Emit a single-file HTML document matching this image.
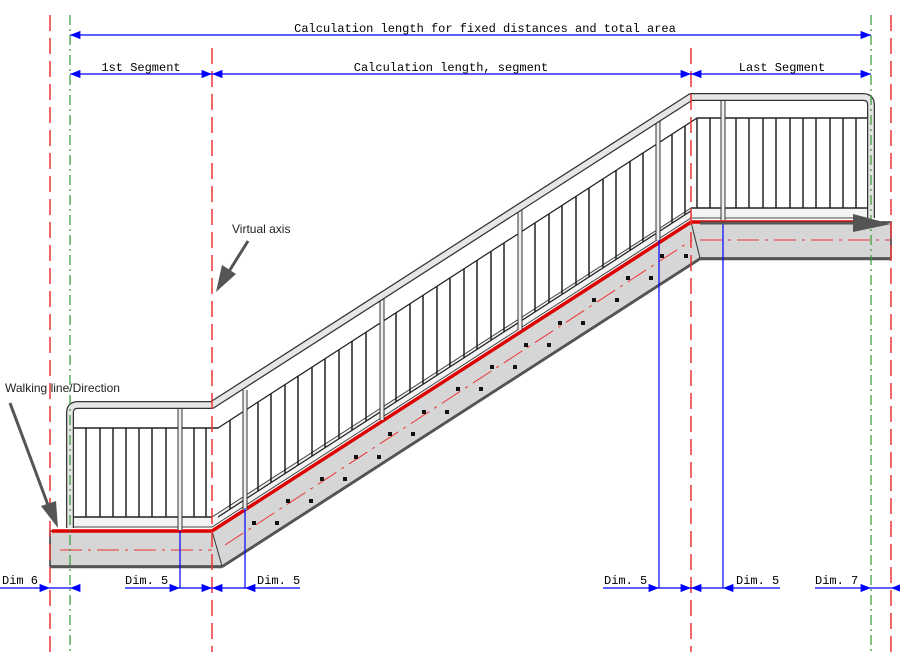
<!DOCTYPE html>
<html><head><meta charset="utf-8"><style>
html,body{margin:0;padding:0;background:#fff}
svg{display:block}
.dim{font-family:"Liberation Mono",monospace;font-size:12px;fill:#000}
.ann{font-family:"Liberation Sans",sans-serif;font-size:12px;fill:#222}
</style></head><body>
<svg width="900" height="652" viewBox="0 0 900 652" xmlns="http://www.w3.org/2000/svg">
<defs>
<marker id="ar" viewBox="0 0 10 10" refX="10" refY="5" markerWidth="8" markerHeight="8" orient="auto-start-reverse"><path d="M0,1 L10,5 L0,9z" fill="#00f"/></marker>
</defs>
<polygon points="50,531 212,531 691,222 891,222 891,258 700,258 222,566 50,566" fill="#d6d6d6" stroke="#333" stroke-width="1.5"/>
<line x1="212" y1="531" x2="222" y2="566" stroke="#333"/>
<line x1="691" y1="222" x2="700" y2="258" stroke="#333"/>
<line x1="222" y1="567" x2="700" y2="259" stroke="#555" stroke-width="2.5"/>
<line x1="50" y1="567" x2="222" y2="567" stroke="#555" stroke-width="2.5"/>
<line x1="700" y1="259" x2="891" y2="259" stroke="#555" stroke-width="2.5"/>
<g stroke="#e33" stroke-width="1" stroke-dasharray="22,6,3,6" fill="none">
<line x1="60" y1="550" x2="212" y2="550"/>
<line x1="225" y1="545" x2="692" y2="240"/>
<line x1="700" y1="240" x2="891" y2="240"/>
</g>
<g fill="#111">
<rect x="252" y="521" width="4" height="4"/><rect x="275" y="521" width="4" height="4"/>
<rect x="286" y="499" width="4" height="4"/><rect x="309" y="499" width="4" height="4"/>
<rect x="320" y="477" width="4" height="4"/><rect x="343" y="477" width="4" height="4"/>
<rect x="354" y="455" width="4" height="4"/><rect x="377" y="455" width="4" height="4"/>
<rect x="388" y="432" width="4" height="4"/><rect x="411" y="432" width="4" height="4"/>
<rect x="422" y="410" width="4" height="4"/><rect x="445" y="410" width="4" height="4"/>
<rect x="456" y="387" width="4" height="4"/><rect x="479" y="387" width="4" height="4"/>
<rect x="490" y="365" width="4" height="4"/><rect x="513" y="365" width="4" height="4"/>
<rect x="524" y="343" width="4" height="4"/><rect x="547" y="343" width="4" height="4"/>
<rect x="558" y="321" width="4" height="4"/><rect x="581" y="321" width="4" height="4"/>
<rect x="592" y="298" width="4" height="4"/><rect x="615" y="298" width="4" height="4"/>
<rect x="626" y="276" width="4" height="4"/><rect x="649" y="276" width="4" height="4"/>
<rect x="660" y="254" width="4" height="4"/><rect x="684" y="254" width="4" height="4"/>
</g>
<polygon points="72,517 212,517 691,208 868,208 868,218 691,218 212,527 72,527" fill="#f4f4f4" stroke="#444" stroke-width="1"/>
<polyline points="52,531 212,531 691,222 870,222" fill="none" stroke="#d00" stroke-width="3.5"/>
<g stroke="#222" stroke-width="1.5">
<line x1="72" y1="428" x2="218" y2="428"/>
<line x1="72" y1="517" x2="212" y2="517"/>
<line x1="86" y1="428" x2="86" y2="517"/><line x1="100" y1="428" x2="100" y2="517"/>
<line x1="113" y1="428" x2="113" y2="517"/><line x1="126" y1="428" x2="126" y2="517"/>
<line x1="139" y1="428" x2="139" y2="517"/><line x1="152" y1="428" x2="152" y2="517"/>
<line x1="166" y1="428" x2="166" y2="517"/><line x1="194" y1="428" x2="194" y2="517"/>
<line x1="206" y1="428" x2="206" y2="517"/>
</g>
<g transform="matrix(1 -0.647 0 1 0 0)" stroke="#222" stroke-width="1.5">
<line x1="218" y1="569" x2="697" y2="569"/>
<line x1="218" y1="658" x2="691" y2="658"/>
<line x1="230" y1="569" x2="230" y2="658"/><line x1="258" y1="569" x2="258" y2="658"/>
<line x1="271" y1="569" x2="271" y2="658"/><line x1="285" y1="569" x2="285" y2="658"/>
<line x1="298" y1="569" x2="298" y2="658"/><line x1="312" y1="569" x2="312" y2="658"/>
<line x1="325" y1="569" x2="325" y2="658"/><line x1="339" y1="569" x2="339" y2="658"/>
<line x1="352" y1="569" x2="352" y2="658"/><line x1="366" y1="569" x2="366" y2="658"/>
<line x1="396" y1="569" x2="396" y2="658"/><line x1="410" y1="569" x2="410" y2="658"/>
<line x1="423" y1="569" x2="423" y2="658"/><line x1="437" y1="569" x2="437" y2="658"/>
<line x1="450" y1="569" x2="450" y2="658"/><line x1="464" y1="569" x2="464" y2="658"/>
<line x1="477" y1="569" x2="477" y2="658"/><line x1="491" y1="569" x2="491" y2="658"/>
<line x1="504" y1="569" x2="504" y2="658"/><line x1="535" y1="569" x2="535" y2="658"/>
<line x1="549" y1="569" x2="549" y2="658"/><line x1="562" y1="569" x2="562" y2="658"/>
<line x1="576" y1="569" x2="576" y2="658"/><line x1="589" y1="569" x2="589" y2="658"/>
<line x1="603" y1="569" x2="603" y2="658"/><line x1="616" y1="569" x2="616" y2="658"/>
<line x1="630" y1="569" x2="630" y2="658"/><line x1="643" y1="569" x2="643" y2="658"/>
<line x1="672" y1="569" x2="672" y2="658"/><line x1="685" y1="569" x2="685" y2="658"/>
</g>
<g stroke="#222" stroke-width="1.5">
<line x1="697" y1="118" x2="868" y2="118"/>
<line x1="691" y1="208" x2="868" y2="208"/>
<line x1="697" y1="118" x2="697" y2="208"/><line x1="710" y1="118" x2="710" y2="208"/>
<line x1="736" y1="118" x2="736" y2="208"/><line x1="749" y1="118" x2="749" y2="208"/>
<line x1="763" y1="118" x2="763" y2="208"/><line x1="776" y1="118" x2="776" y2="208"/>
<line x1="790" y1="118" x2="790" y2="208"/><line x1="803" y1="118" x2="803" y2="208"/>
<line x1="816" y1="118" x2="816" y2="208"/><line x1="830" y1="118" x2="830" y2="208"/>
<line x1="843" y1="118" x2="843" y2="208"/><line x1="856" y1="118" x2="856" y2="208"/>
</g>
<g stroke="#333" stroke-width="5"><line x1="180" y1="405" x2="180" y2="530"/><line x1="245" y1="390" x2="245" y2="510"/><line x1="382" y1="298" x2="382" y2="420"/><line x1="520" y1="209" x2="520" y2="330"/><line x1="658" y1="118" x2="658" y2="240"/><line x1="723" y1="97" x2="723" y2="220"/></g>
<g stroke="#eee" stroke-width="3"><line x1="180" y1="405" x2="180" y2="530"/><line x1="245" y1="390" x2="245" y2="510"/><line x1="382" y1="298" x2="382" y2="420"/><line x1="520" y1="209" x2="520" y2="330"/><line x1="658" y1="118" x2="658" y2="240"/><line x1="723" y1="97" x2="723" y2="220"/></g>
<path d="M70,528 L70,413 Q70,405 78,405 L212,405 L691,97 L863,97 Q871,97 871,105 L871,218" fill="none" stroke="#333" stroke-width="8" stroke-linejoin="round"/>
<path d="M70,528 L70,413 Q70,405 78,405 L212,405 L691,97 L863,97 Q871,97 871,105 L871,218" fill="none" stroke="#e6e6e6" stroke-width="5.5" stroke-linejoin="round"/>
<g stroke="#00f" stroke-width="1.2">
<line x1="180" y1="531" x2="180" y2="588"/><line x1="245" y1="508" x2="245" y2="588"/>
<line x1="659" y1="240" x2="659" y2="588"/><line x1="723" y1="222" x2="723" y2="588"/>
</g>
<g stroke="#e33" stroke-width="1.5" stroke-dasharray="16,7" fill="none">
<line x1="50" y1="15" x2="50" y2="652"/><line x1="212" y1="48" x2="212" y2="652"/>
<line x1="691" y1="48" x2="691" y2="652"/><line x1="891" y1="15" x2="891" y2="652"/>
</g>
<g stroke="#393" stroke-width="1.2" stroke-dasharray="10,4,2,4" fill="none">
<line x1="70" y1="15" x2="70" y2="652"/><line x1="871" y1="15" x2="871" y2="652"/>
</g>
<g stroke="#00f" stroke-width="1.3" fill="none">
<line x1="70" y1="35" x2="871" y2="35" marker-start="url(#ar)" marker-end="url(#ar)"/>
<line x1="70" y1="74" x2="212" y2="74" marker-start="url(#ar)" marker-end="url(#ar)"/>
<line x1="212" y1="74" x2="691" y2="74" marker-start="url(#ar)" marker-end="url(#ar)"/>
<line x1="691" y1="74" x2="871" y2="74" marker-start="url(#ar)" marker-end="url(#ar)"/>
<line x1="0" y1="588" x2="50" y2="588" marker-end="url(#ar)"/>
<line x1="50" y1="588" x2="70" y2="588"/>
<line x1="78" y1="588" x2="70" y2="588" marker-end="url(#ar)"/>
<line x1="125" y1="588" x2="180" y2="588" marker-end="url(#ar)"/>
<line x1="180" y1="588" x2="212" y2="588" marker-end="url(#ar)"/>
<line x1="245" y1="588" x2="212" y2="588" marker-end="url(#ar)"/>
<line x1="300" y1="588" x2="245" y2="588" marker-end="url(#ar)"/>
<line x1="603" y1="588" x2="659" y2="588" marker-end="url(#ar)"/>
<line x1="659" y1="588" x2="691" y2="588" marker-end="url(#ar)"/>
<line x1="723" y1="588" x2="691" y2="588" marker-end="url(#ar)"/>
<line x1="780" y1="588" x2="723" y2="588" marker-end="url(#ar)"/>
<line x1="815" y1="588" x2="871" y2="588" marker-end="url(#ar)"/>
<line x1="900" y1="588" x2="891" y2="588" marker-end="url(#ar)"/>
<line x1="871" y1="588" x2="891" y2="588"/>
</g>
<g class="dim">
<text x="485" y="32" text-anchor="middle">Calculation length for fixed distances and total area</text>
<text x="141" y="71" text-anchor="middle">1st Segment</text>
<text x="451" y="71" text-anchor="middle">Calculation length, segment</text>
<text x="782" y="71" text-anchor="middle">Last Segment</text>
<text x="2" y="584">Dim 6</text>
<text x="125" y="584">Dim. 5</text>
<text x="257" y="584">Dim. 5</text>
<text x="604" y="584">Dim. 5</text>
<text x="736" y="584">Dim. 5</text>
<text x="815" y="584">Dim. 7</text>
</g>
<text class="ann" x="232" y="233">Virtual axis</text>
<text class="ann" x="5" y="392">Walking line/Direction</text>
<g fill="#555" stroke="#555">
<line x1="248" y1="241" x2="228" y2="273" stroke-width="3"/>
<polygon points="216,292 222,265 236,274" stroke="none"/>
<line x1="10" y1="403" x2="48" y2="505" stroke-width="3"/>
<polygon points="58,528 41,506 56,501" stroke="none"/>
<line x1="700" y1="223" x2="860" y2="223" stroke-width="3"/>
<polygon points="891,224 853,214 853,232" stroke="none"/>
</g>
</svg>
</body></html>
